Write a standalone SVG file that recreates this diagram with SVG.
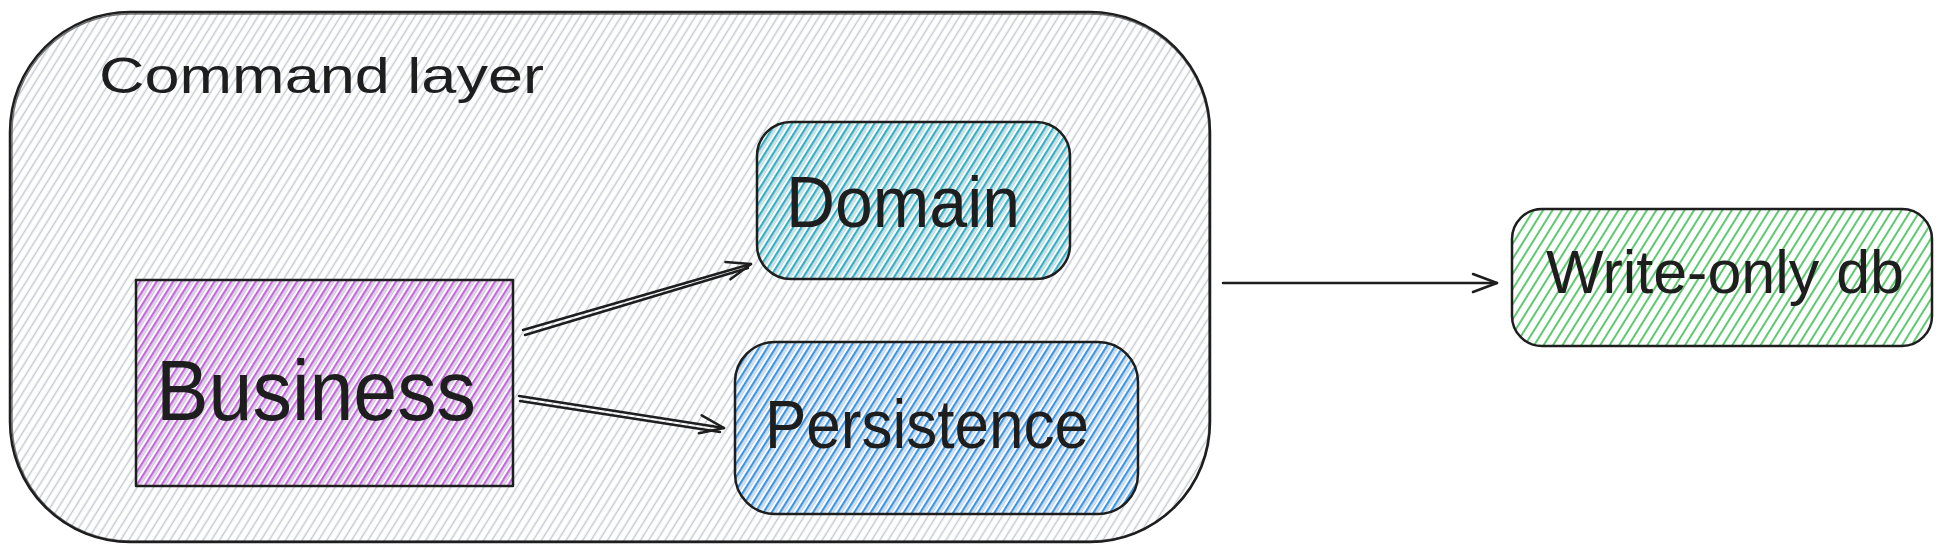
<svg xmlns="http://www.w3.org/2000/svg" width="1939" height="553" viewBox="0 0 1939 553">
<style>
.edge{fill:none;stroke:#1e1e1e;stroke-width:2.5;stroke-linecap:round;stroke-linejoin:round}
.edge2{fill:none;stroke:#1e1e1e;stroke-width:1.5;stroke-linecap:round}
.lbl{font-family:"Comic Sans MS","Liberation Sans","Noto Sans",sans-serif;fill:#1e1e1e}
.conn{fill:none;stroke:#1e1e1e;stroke-width:2.5;stroke-linecap:round}
</style>
<defs>
<pattern id="hGray" patternUnits="userSpaceOnUse" width="7" height="7" patternTransform="rotate(32)">
<line x1="3.5" y1="0" x2="3.5" y2="7" stroke="#c4cad1" stroke-width="1.5"/>
</pattern>
<pattern id="hPurple" patternUnits="userSpaceOnUse" width="7" height="7" patternTransform="rotate(32)">
<line x1="2" y1="0" x2="2" y2="7" stroke="#be4bdb" stroke-width="1.7"/>
<line x1="5.2" y1="0" x2="5.2" y2="7" stroke="#c9a0d6" stroke-width="1"/>
</pattern>
<pattern id="hTeal" patternUnits="userSpaceOnUse" width="7" height="7" patternTransform="rotate(32)">
<line x1="2" y1="0" x2="2" y2="7" stroke="#15aabf" stroke-width="1.8"/>
<line x1="5.2" y1="0" x2="5.2" y2="7" stroke="#8ccfd9" stroke-width="1"/>
</pattern>
<pattern id="hBlue" patternUnits="userSpaceOnUse" width="7" height="7" patternTransform="rotate(32)">
<line x1="2" y1="0" x2="2" y2="7" stroke="#228be6" stroke-width="1.8"/>
<line x1="5.2" y1="0" x2="5.2" y2="7" stroke="#96c4ee" stroke-width="1"/>
</pattern>
<pattern id="hGreen" patternUnits="userSpaceOnUse" width="8" height="8" patternTransform="rotate(32)">
<line x1="4" y1="0" x2="4" y2="8" stroke="#40c057" stroke-width="1.7"/>
</pattern>
<marker id="arr" markerUnits="userSpaceOnUse" markerWidth="40" markerHeight="40" refX="0" refY="0" viewBox="-30 -20 40 40" orient="auto" overflow="visible">
<path d="M-24,-9 L0,0 L-24,9" fill="none" stroke="#1e1e1e" stroke-width="2.5" stroke-linecap="round" stroke-linejoin="round"/>
</marker>
</defs>
<rect width="1939" height="553" fill="#ffffff"/>

<g id="command-layer">
<rect x="10" y="12" width="1200" height="530" rx="120" ry="120" fill="url(#hGray)"/>
<rect x="10" y="12" width="1200" height="530" rx="120" ry="120" class="edge"/>
<rect x="12" y="14" width="1197" height="527" rx="118" ry="118" class="edge2" opacity="0.6"/>
<text class="lbl" x="99" y="93" font-size="50" textLength="445" lengthAdjust="spacingAndGlyphs">Command layer</text>
</g>

<g id="business">
<rect x="136" y="280" width="377" height="206" fill="url(#hPurple)"/>
<rect x="136" y="280" width="377" height="206" class="edge"/>
<text class="lbl" x="156" y="420" font-size="86" textLength="320" lengthAdjust="spacingAndGlyphs">Business</text>
</g>

<g id="domain">
<rect x="757" y="122" width="313" height="157" rx="34" ry="34" fill="url(#hTeal)"/>
<rect x="757" y="122" width="313" height="157" rx="34" ry="34" class="edge"/>
<text class="lbl" x="786" y="227" font-size="72" textLength="234" lengthAdjust="spacingAndGlyphs">Domain</text>
</g>

<g id="persistence">
<rect x="735" y="342" width="403" height="172" rx="40" ry="40" fill="url(#hBlue)"/>
<rect x="735" y="342" width="403" height="172" rx="40" ry="40" class="edge"/>
<text class="lbl" x="765" y="448" font-size="68" textLength="324" lengthAdjust="spacingAndGlyphs">Persistence</text>
</g>

<g id="write-only-db">
<rect x="1512" y="209" width="420" height="137" rx="30" ry="30" fill="url(#hGreen)"/>
<rect x="1512" y="209" width="420" height="137" rx="30" ry="30" class="edge"/>
<text class="lbl" x="1546" y="293" font-size="62" textLength="358" lengthAdjust="spacingAndGlyphs">Write-only db</text>
</g>

<g id="connectors">
<path class="conn" d="M523,330 L751,264" marker-end="url(#arr)"/>
<path class="conn" d="M525,335 L748,268" stroke-width="1.5"/>
<path class="conn" d="M519,396 L724,428" marker-end="url(#arr)"/>
<path class="conn" d="M520,401 L720,432" stroke-width="1.5"/>
<path class="conn" d="M1223,283 L1497,283" marker-end="url(#arr)"/>
</g>
</svg>
